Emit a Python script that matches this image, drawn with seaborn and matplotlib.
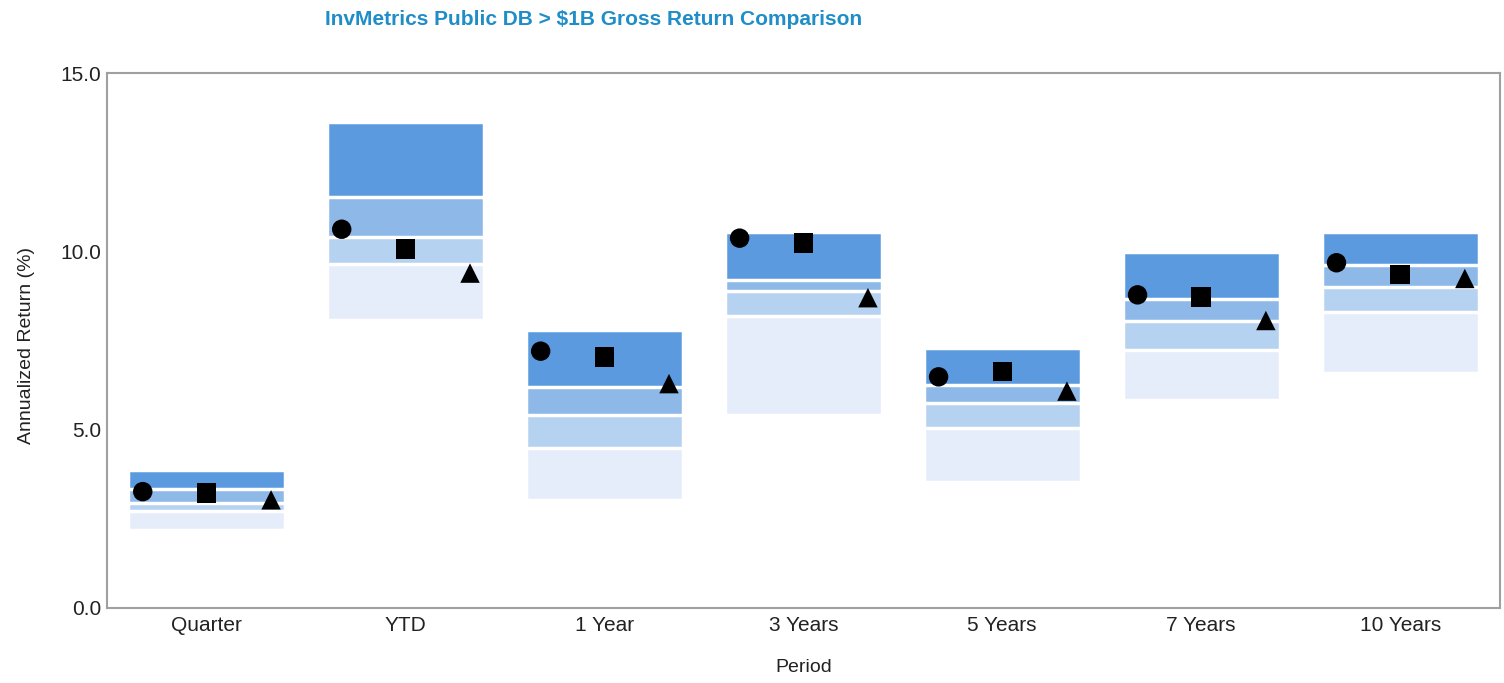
import pandas as pd
import matplotlib
matplotlib.use("Agg")
import matplotlib.pyplot as plt
import seaborn as sns

# Percentile bands (top of band = 5th pct, bottom = 95th pct)
periods = ["Quarter", "YTD", "1 Year", "3 Years", "5 Years", "7 Years", "10 Years"]
p5 = [3.87, 13.63, 7.79, 10.54, 7.29, 9.98, 10.54]
p25 = [3.34, 11.52, 6.20, 9.20, 6.25, 8.66, 9.62]
p50 = [2.93, 10.40, 5.41, 8.90, 5.75, 8.05, 9.00]
p75 = [2.71, 9.64, 4.49, 8.19, 5.05, 7.23, 8.30]
p95 = [2.19, 8.07, 3.03, 5.41, 3.53, 5.83, 6.59]

# Plan returns shown as markers
circle_vals = [3.26, 10.62, 7.20, 10.37, 6.48, 8.78, 9.68]
square_vals = [3.22, 10.06, 7.04, 10.23, 6.63, 8.72, 9.35]
triangle_vals = [3.03, 9.39, 6.29, 8.70, 6.08, 8.06, 9.24]

sns.set_theme(style="white")
plt.rcParams["font.family"] = ["Liberation Sans", "DejaVu Sans"]

bands = pd.DataFrame({"period": periods, "p5": p5, "p25": p25,
                      "p50": p50, "p75": p75, "p95": p95})

fig = plt.figure(figsize=(15.04, 6.83), dpi=100)
ax = fig.add_axes([0.0711, 0.110, 0.926, 0.783])

# stack of overlaid bars, drawn from the top value down; the white one hides the rest
layers = [("p5", "#5b9ade"), ("p25", "#8db8e8"), ("p50", "#b6d2f1"),
          ("p75", "#e4edf9"), ("p95", "#ffffff")]
for col, colour in layers:
    sns.barplot(data=bands, x="period", y=col, color=colour, saturation=1,
                width=0.79, edgecolor="white", linewidth=2.5, errorbar=None, ax=ax)

# markers, offset left / centre / right within each period
offsets = {"circle": -0.32, "square": 0.0, "triangle": 0.325}
rows = []
for name, vals in [("circle", circle_vals), ("square", square_vals), ("triangle", triangle_vals)]:
    for i, v in enumerate(vals):
        rows.append({"xpos": i + offsets[name], "value": v, "series": name})
marks = pd.DataFrame(rows)
sns.scatterplot(data=marks, x="xpos", y="value", style="series",
                markers={"circle": "o", "square": "s", "triangle": "^"},
                color="black", s=196, linewidth=0, legend=False, ax=ax, zorder=5)

ax.set_xlim(-0.5, 6.5)
ax.set_ylim(0, 15)
ax.set_xticks(range(len(periods)))
ax.set_xticklabels(periods)
ax.set_yticks([0, 5, 10, 15])
ax.set_yticklabels(["0.0", "5.0", "10.0", "15.0"])
ax.tick_params(axis="both", length=0, labelsize=15, colors="#222222")
ax.tick_params(axis="y", pad=4)
ax.tick_params(axis="x", pad=6)

for side in ["left", "right", "top", "bottom"]:
    ax.spines[side].set_visible(True)
    ax.spines[side].set_color("#a0a0a0")
    ax.spines[side].set_linewidth(1.5)

ax.set_xlabel("Period", fontsize=14, color="#222222")
ax.set_ylabel("Annualized Return (%)", fontsize=14, color="#222222")
ax.xaxis.set_label_coords(0.5, -0.095)
ax.yaxis.set_label_coords(-0.052, 0.49)

fig.text(0.3946, 0.972, "InvMetrics Public DB > $1B Gross Return Comparison",
         ha="center", va="center", fontsize=15, fontweight="bold", color="#1f8dc8")

fig.savefig("out.png", dpi=100)
plt.close(fig)
